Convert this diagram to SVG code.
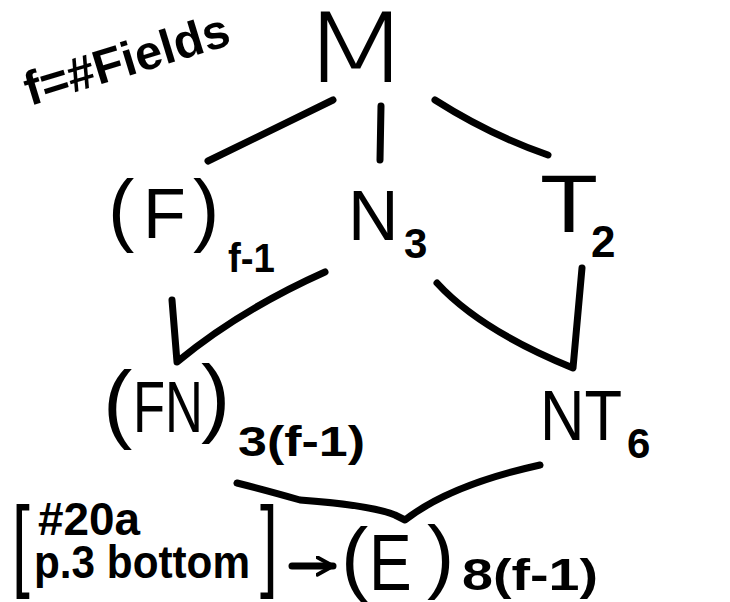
<svg xmlns="http://www.w3.org/2000/svg" width="730" height="602" viewBox="0 0 730 602">
<defs>
<style>
.t{font-family:"Liberation Sans","DejaVu Sans",sans-serif;fill:#000}
.b{font-weight:bold}
.c{fill:none;stroke:#000;stroke-width:7;stroke-linecap:round;stroke-linejoin:round}
</style>
<marker id="ah" viewBox="0 0 12 12" refX="10" refY="6" markerWidth="3" markerHeight="3" orient="auto" markerUnits="strokeWidth">
<path d="M1 1 L10 6 L1 11" fill="none" stroke="#000" stroke-width="2.2" stroke-linecap="round" stroke-linejoin="round"/>
</marker>
</defs>
<rect width="730" height="602" fill="#fff"/>
<g id="legend">
<text class="t b" x="30" y="106" font-size="48" transform="rotate(-17 30 106)" textLength="212" lengthAdjust="spacingAndGlyphs">f=#Fields</text>
</g>
<g id="connectors">
<path class="c" d="M333 100 L208 161"/>
<path class="c" d="M381 106 L380 160"/>
<path class="c" d="M435 100 Q490 135 548 155"/>
<path class="c" d="M172 300 L177 362 Q240 310 325 272"/>
<path class="c" d="M437 283 Q480 330 573 368 L582 268"/>
<path class="c" d="M237 483 Q265 490 300 500 Q370 505 395 515 L405 520 Q450 485 540 465"/>
<path class="c" d="M292 566 L333 566" marker-end="url(#ah)"/>
</g>
<g id="node-M">
<text x="0" y="0" font-family="DejaVu Sans, sans-serif" font-weight="200" font-size="96" transform="translate(300 82) scale(1.35 1)">M</text>
</g>
<g id="node-F">
<text class="t" x="108" y="236" font-size="79">(</text>
<text class="t" x="143" y="238" font-size="70">F</text>
<text class="t" x="193" y="236" font-size="79">)</text>
<text class="t b" x="228" y="272" font-size="40" textLength="47" lengthAdjust="spacingAndGlyphs">f-1</text>
</g>
<g id="node-N3">
<text class="t" x="348" y="240" font-size="70">N</text>
<text class="t b" x="404" y="258" font-size="42">3</text>
</g>
<g id="node-T2">
<text class="t" x="540" y="232" font-size="82" textLength="58" lengthAdjust="spacingAndGlyphs">T</text>
<text class="t b" x="591" y="257" font-size="44">2</text>
</g>
<g id="node-FN">
<text class="t" x="103" y="432" font-size="88">(</text>
<text class="t" x="133" y="432" font-size="72" textLength="70" lengthAdjust="spacingAndGlyphs">FN</text>
<text class="t" x="201" y="426" font-size="88">)</text>
<text class="t b" x="238" y="456" font-size="42" textLength="127" lengthAdjust="spacingAndGlyphs">3(f-1)</text>
</g>
<g id="node-NT6">
<text class="t" x="540" y="440" font-size="70" textLength="82" lengthAdjust="spacingAndGlyphs">NT</text>
<text class="t b" x="627" y="458" font-size="42">6</text>
</g>
<g id="note">
<text class="t" x="0" y="0" font-size="64" transform="translate(12 578) scale(1 1.6)">[</text>
<text class="t b" x="38" y="535" font-size="46" textLength="102" lengthAdjust="spacingAndGlyphs">#20a</text>
<text class="t b" x="34" y="578" font-size="46" textLength="216" lengthAdjust="spacingAndGlyphs">p.3 bottom</text>
<text class="t" x="0" y="0" font-size="64" transform="translate(260 578) scale(1 1.6)">]</text>
</g>
<g id="node-E">
<text class="t" x="341" y="585" font-size="82">(</text>
<text class="t" x="0" y="0" font-size="80" transform="translate(369 590) scale(0.8 1)">E</text>
<text class="t" x="427" y="583" font-size="82">)</text>
<text class="t b" x="462" y="590" font-size="44" textLength="136" lengthAdjust="spacingAndGlyphs">8(f-1)</text>
</g>
</svg>
